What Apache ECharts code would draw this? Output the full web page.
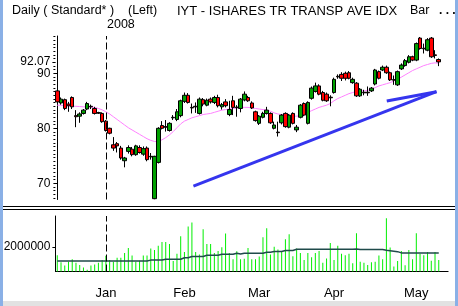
<!DOCTYPE html>
<html><head><meta charset="utf-8">
<script src="https://cdn.jsdelivr.net/npm/echarts@6/dist/echarts.min.js"></script>
<style>html,body{margin:0;padding:0;background:#fff}#c{width:458px;height:306px}</style>
</head><body><div id="c"></div>
<script>
// ---------- data ----------
const dates = [
'2007-12-12','2007-12-13','2007-12-14','2007-12-17','2007-12-18','2007-12-19','2007-12-20','2007-12-21','2007-12-24','2007-12-26','2007-12-27','2007-12-28','2007-12-31',
'2008-01-02','2008-01-03','2008-01-04','2008-01-07','2008-01-08','2008-01-09','2008-01-10','2008-01-11','2008-01-14','2008-01-15','2008-01-16','2008-01-17','2008-01-18','2008-01-22','2008-01-23','2008-01-24','2008-01-25','2008-01-28','2008-01-29','2008-01-30','2008-01-31',
'2008-02-01','2008-02-04','2008-02-05','2008-02-06','2008-02-07','2008-02-08','2008-02-11','2008-02-12','2008-02-13','2008-02-14','2008-02-15','2008-02-19','2008-02-20','2008-02-21','2008-02-22','2008-02-25','2008-02-26','2008-02-27','2008-02-28','2008-02-29',
'2008-03-03','2008-03-04','2008-03-05','2008-03-06','2008-03-07','2008-03-10','2008-03-11','2008-03-12','2008-03-13','2008-03-14','2008-03-17','2008-03-18','2008-03-19','2008-03-20','2008-03-24','2008-03-25','2008-03-26','2008-03-27','2008-03-28','2008-03-31',
'2008-04-01','2008-04-02','2008-04-03','2008-04-04','2008-04-07','2008-04-08','2008-04-09','2008-04-10','2008-04-11','2008-04-14','2008-04-15','2008-04-16','2008-04-17','2008-04-18','2008-04-21','2008-04-22','2008-04-23','2008-04-24','2008-04-25','2008-04-28','2008-04-29','2008-04-30',
'2008-05-01','2008-05-02','2008-05-05','2008-05-06','2008-05-07','2008-05-08','2008-05-09'];

const open = [86.8,84.6,85.2,84.4,85.6,82.3,82.2,82.7,83.5,84.0,83.6,82.85,82.7,
81.3,80.0,77.0,77.2,76.4,74.1,75.8,76.2,75.2,76.5,75.3,76.4,74.9,67.2,73.8,80.5,80.3,79.6,81.9,81.6,82.3,
84.9,86.0,83.8,83.9,82.7,85.2,84.2,85.3,84.7,85.6,83.9,84.8,82.5,85.0,83.85,83.6,85.15,85.6,84.6,83.0,
80.9,82.0,82.7,82.7,80.0,79.3,81.0,82.7,80.2,82.7,79.7,82.0,84.5,80.9,85.45,86.7,87.7,86.5,86.2,85.65,
86.5,89.45,89.8,90.0,90.1,88.3,88.2,85.9,86.55,86.55,86.8,88.05,90.3,90.6,91.1,90.1,88.85,87.9,90.8,91.4,92.0,93.0,
92.4,96.4,94.55,94.2,96.4,93.35,92.5];
const close = [84.8,85.3,83.6,84.1,83.9,82.1,82.6,83.3,84.5,83.9,82.7,82.75,81.2,
79.6,79.1,76.4,76.8,74.6,74.6,76.5,75.2,76.8,75.6,76.3,74.3,74.8,74.9,80.0,80.0,80.2,80.9,82.0,83.0,85.0,
86.0,84.7,83.7,84.0,85.3,84.4,85.1,84.8,85.6,84.1,84.3,84.1,83.4,83.8,83.75,85.3,86.2,85.0,83.7,81.4,
82.2,82.7,83.3,81.0,80.6,79.2,82.4,80.3,82.4,80.9,80.2,84.2,82.4,84.7,87.3,87.7,86.2,85.1,85.0,85.55,
88.9,89.35,89.1,89.1,89.1,88.9,85.9,87.1,86.45,86.45,87.3,90.6,89.1,91.1,90.1,88.8,88.75,90.3,91.5,92.3,93.0,92.4,
95.4,94.5,94.45,96.1,93.0,93.25,92.07];
const low = [84.6,84.3,83.3,83.0,83.5,80.2,81.0,82.5,83.3,83.5,82.5,82.6,81.0,
79.4,78.9,75.9,75.6,74.3,72.9,75.4,74.9,75.0,75.4,75.0,74.0,74.3,67.1,73.6,79.8,79.4,79.4,81.5,81.3,82.0,
84.6,84.5,82.7,82.8,82.5,84.0,84.0,84.5,84.4,83.8,83.4,83.8,82.2,82.4,82.1,82.9,84.9,84.8,83.5,81.2,
80.6,81.8,82.5,80.8,79.8,78.5,80.7,80.1,80.0,80.7,79.3,81.8,82.2,80.7,85.2,86.5,86.0,84.9,84.8,84.0,
86.3,89.0,88.6,88.7,88.9,88.1,85.7,85.7,86.0,85.9,86.6,87.8,88.9,90.4,89.9,88.6,87.9,87.7,90.6,91.2,91.8,92.2,
92.2,94.3,93.6,94.0,92.8,92.7,91.3];
const high = [87.9,85.6,85.4,84.8,85.8,83.3,82.9,83.5,84.8,84.3,83.9,83.0,82.9,
81.5,80.1,78.4,77.5,76.8,74.8,76.9,76.6,77.0,76.9,76.7,76.7,75.5,75.0,80.2,81.3,81.5,81.1,82.4,83.5,85.2,
86.5,86.4,84.5,84.7,85.6,85.5,85.4,85.6,85.9,86.1,84.6,85.3,85.0,85.9,84.2,85.5,86.7,85.9,84.9,83.2,
82.4,83.0,83.9,82.9,81.2,81.2,82.6,82.9,82.6,82.9,80.6,84.4,84.7,84.9,87.6,88.3,88.0,86.8,86.5,86.0,
89.2,89.8,90.2,90.3,90.4,89.2,88.4,87.3,87.0,87.6,87.5,90.8,90.5,91.4,91.4,90.3,89.6,90.5,91.8,92.6,93.3,93.2,
95.6,96.6,95.4,96.4,96.6,94.2,92.7];
const priceMA = [84.2,84.2,84.1,84.1,84.0,84.0,83.95,83.9,83.9,83.85,83.8,83.6,83.35,
83.0,82.6,82.1,81.6,81.1,80.6,80.1,79.7,79.3,78.9,78.5,78.1,77.8,77.6,77.6,77.9,78.3,78.8,79.4,80.1,80.8,
81.3,81.6,81.9,82.1,82.3,82.5,82.6,82.7,82.9,83.1,83.3,83.4,83.5,83.6,83.7,83.8,83.8,83.8,83.7,83.6,
83.5,83.4,83.3,83.1,82.8,82.6,82.5,82.4,82.3,82.2,82.2,82.3,82.6,82.9,83.2,83.5,83.8,84.0,84.2,84.5,
85.0,85.4,85.7,86.0,86.3,86.5,86.7,86.8,86.8,86.9,87.1,87.4,87.7,87.9,88.1,88.3,88.6,88.9,89.3,89.7,90.1,90.5,
90.8,91.1,91.4,91.6,91.8,91.9,91.8];
const volume = [1330000,750000,480000,800000,1000000,720000,530000,320000,150000,480000,580000,720000,930000,
1280000,930000,800000,1120000,1120000,1520000,1920000,1300000,800000,880000,1300000,1300000,1870000,1760000,2100000,2400000,2400000,2240000,850000,1440000,2880000,
1600000,3680000,4000000,1600000,1390000,3440000,2240000,2240000,1500000,1680000,1970000,3100000,1520000,990000,1650000,990000,1040000,1920000,990000,990000,
1230000,2800000,3520000,1390000,2030000,1790000,1650000,2640000,3040000,1250000,1870000,1520000,930000,1520000,1170000,1520000,1680000,720000,1070000,2320000,
930000,2100000,1440000,1330000,1440000,670000,3120000,800000,720000,530000,750000,800000,1300000,990000,4350000,1950000,400000,850000,1680000,510000,1760000,990000,
3120000,1440000,1330000,1600000,880000,1600000,930000];
const volumeMA = [850000,850000,850000,850000,850000,850000,850000,850000,850000,850000,850000,850000,850000,
850000,850000,850000,850000,850000,850000,850000,850000,850000,850000,850000,850000,930000,930000,930000,930000,1000000,1000000,1000000,1000000,1000000,
1120000,1120000,1220000,1220000,1220000,1220000,1330000,1330000,1330000,1330000,1410000,1410000,1410000,1410000,1490000,1430000,1490000,1490000,1490000,1490000,
1490000,1490000,1570000,1570000,1630000,1630000,1630000,1710000,1710000,1710000,1810000,1810000,1810000,1810000,1810000,1810000,1810000,1810000,1810000,1810000,
1810000,1810000,1810000,1810000,1810000,1810000,1840000,1790000,1790000,1790000,1790000,1790000,1790000,1790000,1740000,1700000,1660000,1620000,1520000,1520000,1520000,1520000,
1520000,1520000,1520000,1520000,1520000,1520000,1520000];
const trendMain = [[36.4, 69.5], [101.4, 86.65]];
const trendShort = [[88.1, 84.96], [101.4, 86.65]];
const priceTickLabels = [70, 80, 90];
const lastPriceLabel = [92.07];
const volumeTickLabels = [2000000];
const monthNames = ['Jan','Feb','Mar','Apr','May','Jun','Jul','Aug','Sep','Oct','Nov','Dec'];
const yearMark = '2008-01-02';

// ---------- helpers ----------
const cats = dates.concat(['', '']);
const isMonthStart = i => i > 0 && i < dates.length && dates[i].slice(5,7) !== dates[i-1].slice(5,7);
const segStart = i => { let s = i; while (s > 0 && !isMonthStart(s)) s--; return s; };
const smallTickAt = i => i < dates.length && ((i - segStart(i)) % 2 === 0) && !isMonthStart(i + 1);
const minorVals = [];
for (let v = 67.33; v < 96.7; v += 2/3) minorVals.push(+v.toFixed(3));

const font = 'Liberation Sans, Arial, sans-serif';
const chart = echarts.init(document.getElementById('c'), null, {renderer: 'canvas'});
const dashLine = {
  symbol: 'none', silent: true, label: {show: false},
  lineStyle: {color: '#000', type: [7, 3], width: 1},
  data: [{xAxis: yearMark}]
};
chart.setOption({
  animation: false,
  textStyle: {fontFamily: font},
  grid: [
    {left: 55.4, top: 36, width: 392.7, height: 163.5},
    {left: 55.4, top: 216, width: 392.7, height: 55.5}
  ],
  xAxis: [
    {type: 'category', gridIndex: 0, position: 'bottom', data: cats, axisLine: {show: false}, axisTick: {show: false}, axisLabel: {show: false}, splitLine: {show: false}},
    {type: 'category', gridIndex: 1, position: 'bottom', data: cats, axisLine: {lineStyle: {color: '#000', width: 1}},
     axisTick: {alignWithLabel: true, interval: (i) => smallTickAt(i), length: 3, lineStyle: {color: '#000'}},
     axisLabel: {show: false}, splitLine: {show: false}},
    {type: 'category', gridIndex: 1, position: 'bottom', offset: 0, data: cats, axisLine: {show: false},
     axisTick: {alignWithLabel: true, interval: (i) => isMonthStart(i), length: 8, lineStyle: {color: '#000'}},
     axisLabel: {interval: (i) => isMonthStart(i), formatter: v => v ? monthNames[+v.slice(5,7) - 1] : '', color: '#000', fontSize: 13, margin: 15, fontFamily: font},
     splitLine: {show: false}},
    {type: 'value', gridIndex: 0, position: 'bottom', min: -0.5, max: 104.5, show: false}
  ],
  yAxis: [
    {type: 'value', gridIndex: 0, position: 'left', min: 67.05, max: 96.78, splitLine: {show: false},
     axisLine: {show: true, lineStyle: {color: '#000'}},
     axisTick: {show: true, customValues: priceTickLabels, length: 3, lineStyle: {color: '#000'}},
     axisLabel: {customValues: priceTickLabels, color: '#000', fontSize: 12, margin: 5, fontFamily: font, formatter: v => String(v)}},
    {type: 'value', gridIndex: 0, position: 'left', offset: 0, min: 67.05, max: 96.78, splitLine: {show: false},
     axisLine: {show: false}, axisTick: {show: true, customValues: minorVals, length: 2, lineStyle: {color: '#000'}},
     axisLabel: {show: false}},
    {type: 'value', gridIndex: 0, position: 'left', offset: 0, min: 67.05, max: 96.78, splitLine: {show: false},
     axisLine: {show: false}, axisTick: {show: true, customValues: lastPriceLabel, length: 3, lineStyle: {color: '#000'}},
     axisLabel: {customValues: lastPriceLabel, color: '#000', fontSize: 12, margin: 5, fontFamily: font,
       backgroundColor: '#fff', padding: [0, 0, 0, 0], formatter: v => v.toFixed(2)}},
    {type: 'value', gridIndex: 1, position: 'left', min: 0, max: 4530000, splitLine: {show: false},
     axisLine: {show: true, lineStyle: {color: '#000'}},
     axisTick: {show: true, customValues: volumeTickLabels, length: 3, lineStyle: {color: '#000'}},
     axisLabel: {customValues: volumeTickLabels, color: '#000', fontSize: 12, margin: 5, fontFamily: font, formatter: v => String(Math.round(v))}}
  ],
  series: [
    {type: 'line', xAxisIndex: 0, yAxisIndex: 0, data: priceMA, symbol: 'none', z: 1,
     lineStyle: {color: '#ff80ff', width: 1}},
    {type: 'candlestick', xAxisIndex: 0, yAxisIndex: 0, z: 3, barWidth: 4,
     data: dates.map((d, i) => [open[i], close[i], low[i], high[i]]),
     itemStyle: {color: '#00a000', color0: '#ff0000', borderColor: '#000', borderColor0: '#000', borderColorDoji: '#000', borderWidth: 1},
     markLine: dashLine},
    {type: 'line', xAxisIndex: 3, yAxisIndex: 0, data: trendMain, symbol: 'none', z: 5,
     lineStyle: {color: '#3535ee', width: 3}},
    {type: 'line', xAxisIndex: 3, yAxisIndex: 0, data: trendShort, symbol: 'none', z: 5,
     lineStyle: {color: '#3535ee', width: 3}},
    {type: 'bar', xAxisIndex: 1, yAxisIndex: 3, data: volume, barWidth: 1,
     itemStyle: {color: '#00ee00'}, markLine: dashLine},
    {type: 'line', xAxisIndex: 1, yAxisIndex: 3, data: volumeMA, step: 'middle', symbol: 'none', z: 4,
     lineStyle: {color: '#1f4a4a', width: 1.5}}
  ],
  graphic: [
    {type: 'rect', shape: {x: 0, y: 0, width: 3, height: 306}, style: {fill: '#8ab0e6'}},
    {type: 'rect', shape: {x: 455, y: 0, width: 3, height: 306}, style: {fill: '#8ab0e6'}},
    {type: 'rect', shape: {x: 3, y: 301, width: 452, height: 5}, style: {fill: '#e2e2e2'}},
    {type: 'line', shape: {x1: 3, y1: 206.5, x2: 455, y2: 206.5}, style: {stroke: '#000', lineWidth: 1}},
    {type: 'line', shape: {x1: 3, y1: 209.5, x2: 455, y2: 209.5}, style: {stroke: '#000', lineWidth: 1}},
    {type: 'text', style: {x: 12, y: 11, text: 'Daily ( Standard* )', font: '12.5px ' + font, fill: '#000', textVerticalAlign: 'middle', verticalAlign: 'middle'}},
    {type: 'text', style: {x: 128, y: 11, text: '(Left)', font: '12.5px ' + font, fill: '#000', textVerticalAlign: 'middle', verticalAlign: 'middle'}},
    {type: 'text', style: {x: 177, y: 11, text: 'IYT - ISHARES TR TRANSP AVE IDX', font: '13px ' + font, fill: '#000', textVerticalAlign: 'middle', verticalAlign: 'middle'}},
    {type: 'text', style: {x: 410, y: 11, text: 'Bar', font: '12.5px ' + font, fill: '#000', textVerticalAlign: 'middle', verticalAlign: 'middle'}},
    {type: 'text', style: {x: 439, y: 11, text: '. . .', font: 'bold 12px ' + font, fill: '#000', textVerticalAlign: 'middle', verticalAlign: 'middle'}},
    {type: 'text', style: {x: 107, y: 25, text: '2008', font: '12.5px ' + font, fill: '#000', textVerticalAlign: 'middle', verticalAlign: 'middle'}}
  ]
});
</script></body></html>
